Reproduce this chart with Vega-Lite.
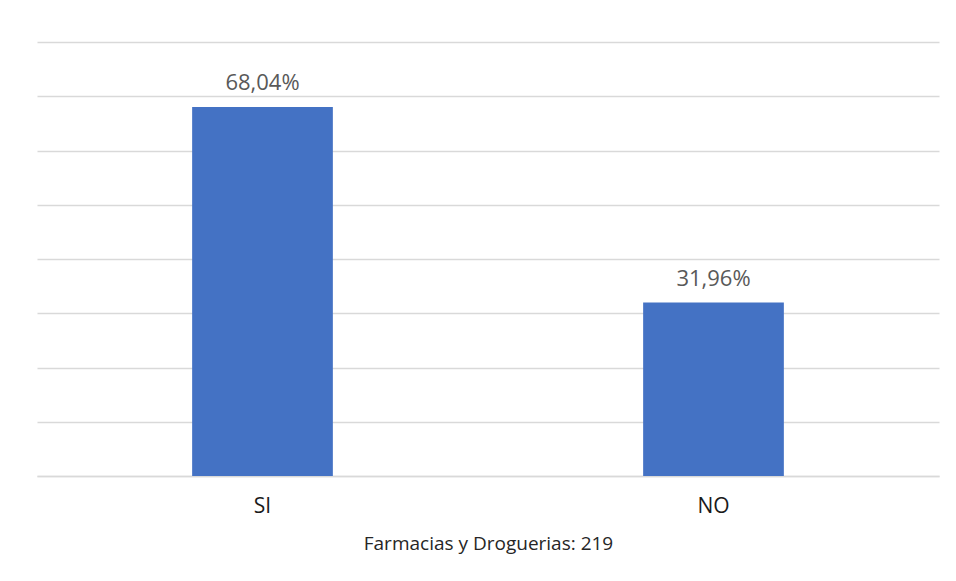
{
  "$schema": "https://vega.github.io/schema/vega-lite/v6.json",
  "autosize": "none",
  "width": 902,
  "height": 434,
  "padding": {"left": 37, "top": 42, "right": 17, "bottom": 105},
  "background": "white",
  "config": {"view": {"stroke": null}, "font": "Open Sans"},
  "data": {"values": [
    {"cat": "SI", "pct": 68.04, "label": "68,04%"},
    {"cat": "NO", "pct": 31.96, "label": "31,96%"}
  ]},
  "encoding": {
    "x": {"field": "cat", "type": "nominal", "sort": ["SI", "NO"],
      "scale": {"paddingInner": 0.688, "paddingOuter": 0.344},
      "axis": {"title": "Farmacias y Droguerias: 219", "titleFont": "Open Sans", "titleFontSize": 19, "titleFontWeight": "normal", "titleColor": "#262626", "titlePadding": 18,
        "labelAngle": 0, "labelFontSize": 21, "labelColor": "#1a1a1a", "labelPadding": 19,
        "ticks": false, "domainColor": "#D9D9D9", "domainWidth": 1.5}},
    "y": {"field": "pct", "type": "quantitative",
      "scale": {"domain": [0, 80]},
      "axis": {"title": null, "labels": false, "ticks": false, "domain": false, "values": [0,10,20,30,40,50,60,70,80], "gridColor": "#D9D9D9", "gridWidth": 1.5}}
  },
  "layer": [
    {"mark": {"type": "bar", "color": "#4472C4"}},
    {"mark": {"type": "text", "baseline": "alphabetic", "dy": -17, "fontSize": 22, "color": "#595959"},
     "encoding": {"text": {"field": "label"}}}
  ]
}
